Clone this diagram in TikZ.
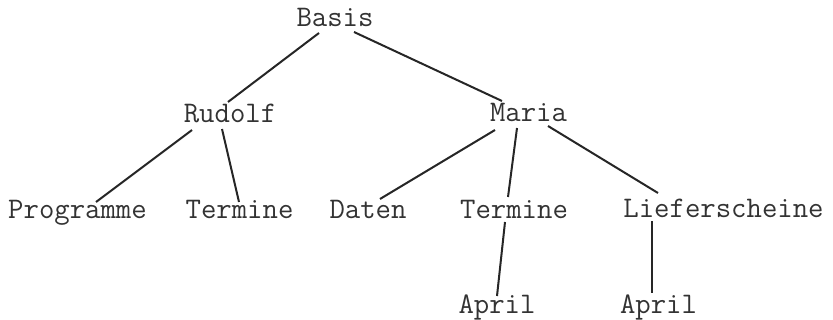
\documentclass[tikz,border=0pt]{standalone}
\usetikzlibrary{calc}

\begin{document}
\begin{tikzpicture}[
      x=0.5pt, y=-0.5pt,
      word/.style={anchor=base, inner sep=0pt, text=black!80, font=\fontsize{14.95}{17}\selectfont\ttfamily},
      twig/.style={line width=1pt, black!85}
    ]
      \useasboundingbox (0,0) rectangle (833,320);

      % top and middle level
      \node[word] (basis) at (335,27) {Basis};
      \node[word] (rudolf) at (230,123) {Rudolf};
      \node[word] (maria) at (528.5,122) {Maria};

      % leaves
      \node[word] (programme) at (77.5,218) {Programme};
      \node[word] (termineR) at (239.5,218) {Termine};
      \node[word] (daten) at (368,218) {Daten};
      \node[word] (termineM) at (514,218) {Termine};
      \node[word] (liefer) at (723.5,217) {Lieferscheine};
      \node[word] (aprilT) at (497,313) {April};
      \node[word] (aprilL) at (658.5,313) {April};

      \draw[twig] ($(basis.base)+(-16,6)$) -- ($(rudolf.base)+(-2,-21)$);
      \draw[twig] ($(basis.base)+(19,5)$) -- ($(maria.base)+(-26.5,-21)$);
      \draw[twig] ($(rudolf.base)+(-38,7)$) -- ($(programme.base)+(18.5,-16)$);
      \draw[twig] ($(rudolf.base)+(-8,6)$) -- ($(termineR.base)+(-0.5,-16)$);
      \draw[twig] ($(maria.base)+(-33.5,8)$) -- ($(daten.base)+(12,-19)$);
      \draw[twig] ($(maria.base)+(-11.5,6)$) -- ($(termineM.base)+(-6,-21)$);
      \draw[twig] ($(maria.base)+(19.5,4)$) -- ($(liefer.base)+(-65.5,-24)$);
      \draw[twig] ($(termineM.base)+(-9,4)$) -- ($(aprilT.base)+(0,-17)$);
      \draw[twig] ($(liefer.base)+(-71.5,4)$) -- ($(aprilL.base)+(-6.5,-20)$);
    \end{tikzpicture}
\end{document}
